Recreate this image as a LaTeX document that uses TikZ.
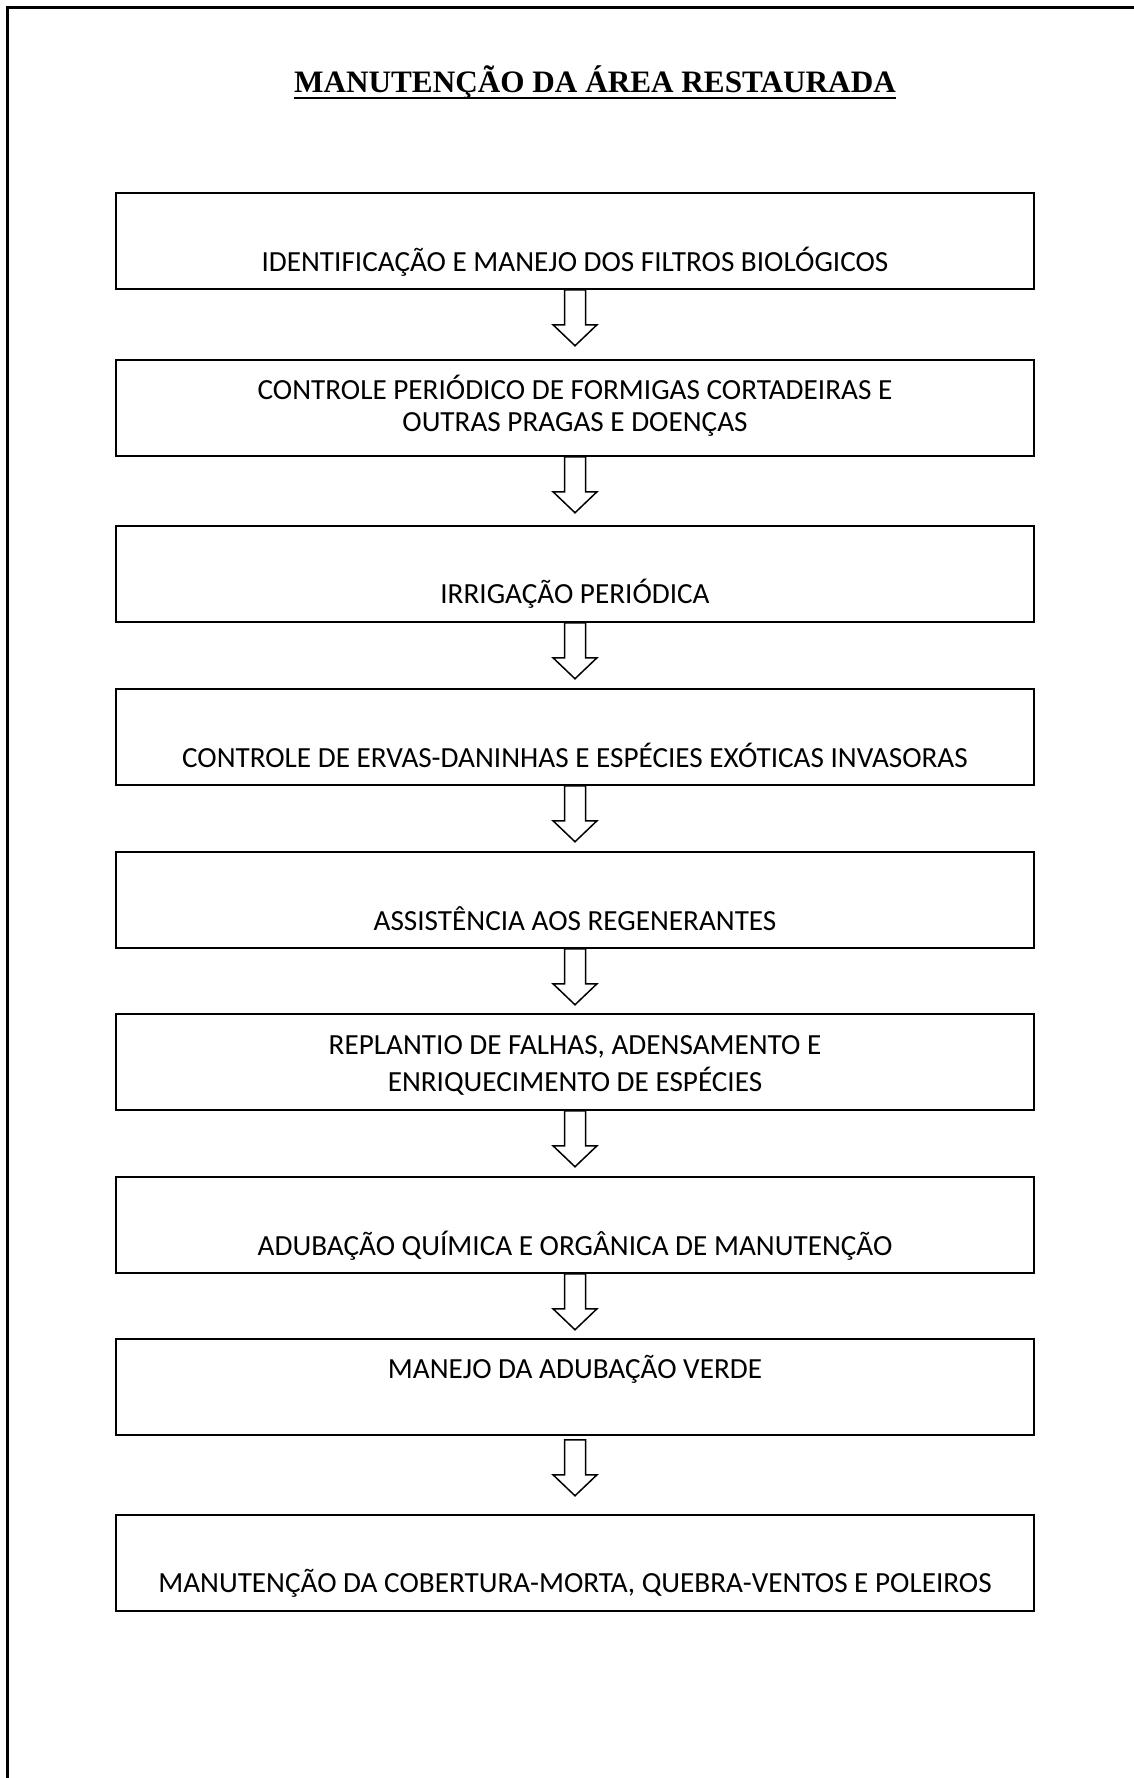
\documentclass[tikz,border=0pt]{standalone}
\usepackage{fontspec}
\setmainfont{Carlito}
\newfontfamily\titlefont{Liberation Serif}
\begin{document}
\begin{tikzpicture}[x=0.5pt,y=-0.5pt,
  stepbox/.style={draw, line width=0.75pt, minimum width=459pt, minimum height=48pt, inner sep=0pt},
  steptext/.style={anchor=base, inner sep=0pt, font=\fontsize{14.6pt}{17pt}\selectfont},
  flowarrow/.style={draw, line width=0.75pt, fill=white, line join=miter},
  frameline/.style={line width=1.5pt}
]
\useasboundingbox (0,0) rectangle (1134,1778);
\clip (0,0) rectangle (1134,1778);
\fill[white] (0,0) rectangle (1134,1778);
\draw[frameline] (1150,7.5) -- (7.5,7.5) -- (7.5,1800);

\node[anchor=base, inner sep=0pt, font=\titlefont\bfseries\fontsize{15.6pt}{18pt}\selectfont] (title) at (595,92) {MANUTENÇÃO DA ÁREA RESTAURADA};
\draw[line width=1.1pt] ([yshift=-2.8pt]title.base west) -- ([yshift=-2.8pt]title.base east);

\node[stepbox] (b1) at (575,241) {};
\node[stepbox] (b2) at (575,408) {};
\node[stepbox] (b3) at (575,574) {};
\node[stepbox] (b4) at (575,737) {};
\node[stepbox] (b5) at (575,900) {};
\node[stepbox] (b6) at (575,1062) {};
\node[stepbox] (b7) at (575,1225) {};
\node[stepbox] (b8) at (575,1387) {};
\node[stepbox] (b9) at (575,1563) {};

\node[steptext] (t1) at (575,271) {IDENTIFICAÇÃO E MANEJO DOS FILTROS BIOLÓGICOS};
\node[steptext] (t2a) at (575,399) {CONTROLE PERIÓDICO DE FORMIGAS CORTADEIRAS E};
\node[steptext] (t2b) at (575,431) {OUTRAS PRAGAS E DOENÇAS};
\node[steptext] (t3) at (575,603) {IRRIGAÇÃO PERIÓDICA};
\node[steptext] (t4) at (575,767) {CONTROLE DE ERVAS-DANINHAS E ESPÉCIES EXÓTICAS INVASORAS};
\node[steptext] (t5) at (575,930) {ASSISTÊNCIA AOS REGENERANTES};
\node[steptext] (t6a) at (575,1054) {REPLANTIO DE FALHAS, ADENSAMENTO E};
\node[steptext] (t6b) at (575,1091) {ENRIQUECIMENTO DE ESPÉCIES};
\node[steptext] (t7) at (575,1255) {ADUBAÇÃO QUÍMICA E ORGÂNICA DE MANUTENÇÃO};
\node[steptext] (t8) at (575,1378) {MANEJO DA ADUBAÇÃO VERDE};
\node[steptext] (t9) at (575,1592) {MANUTENÇÃO DA COBERTURA-MORTA, QUEBRA-VENTOS E POLEIROS};

\foreach \a/\g in {b1/0,b2/0,b3/0,b4/0,b5/0,b6/0,b7/0,b8/4}{
  \draw[flowarrow] (\a.south) ++(-10.5,\g) -- ++(0,35) -- ++(-11.5,0) -- ++(22,21) -- ++(22,-21) -- ++(-11.5,0) -- ++(0,-35) -- cycle;
}
\end{tikzpicture}
\end{document}
